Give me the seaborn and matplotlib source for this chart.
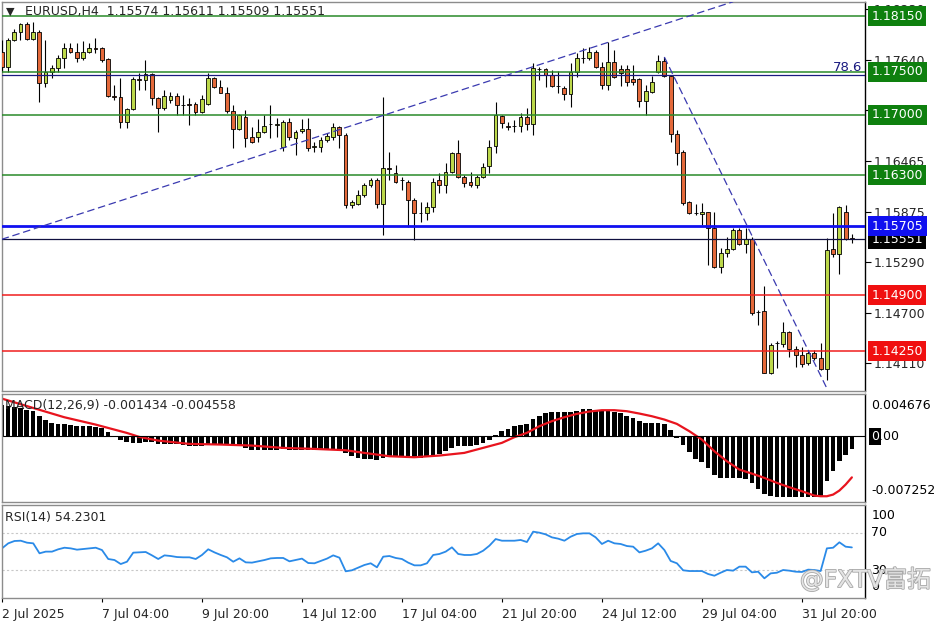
import matplotlib
matplotlib.use("Agg")
import matplotlib.pyplot as plt
import matplotlib.patheffects as pe
import numpy as np
import pandas as pd
import seaborn as sns

# EURUSD H4 bars, oldest first
opens = [
    1.17732, 1.17557, 1.17871, 1.17964, 1.18056, 1.17882, 1.17964, 1.17371, 1.17499, 1.17545,
    1.17662, 1.17778, 1.17732, 1.17662, 1.17732, 1.17778, 1.17778, 1.17650, 1.17219, 1.17208,
    1.16917, 1.17068, 1.17417, 1.17406, 1.17475, 1.17196, 1.17080, 1.17173, 1.17219, 1.17115,
    1.17126, 1.17126, 1.17033, 1.17126, 1.17429, 1.17325, 1.17254, 1.17045, 1.16835, 1.16975,
    1.16743, 1.16743, 1.16801, 1.16894, 1.16882, 1.16626, 1.16917, 1.16731, 1.16812, 1.16835,
    1.16626, 1.16626, 1.16708, 1.16743, 1.16859, 1.16766, 1.15952, 1.15963, 1.16068, 1.16185,
    1.16243, 1.15963, 1.16382, 1.16324, 1.16243, 1.16220, 1.16010, 1.15859, 1.15859, 1.15929,
    1.16243, 1.16185, 1.16336, 1.16556, 1.16278, 1.16220, 1.16185, 1.16278, 1.16405, 1.16638,
    1.16987, 1.16870, 1.16870, 1.16870, 1.16975, 1.16894, 1.17534, 1.17534, 1.17464, 1.17336,
    1.17313, 1.17243, 1.17499, 1.17662, 1.17662, 1.17732, 1.17557, 1.17348, 1.17615, 1.17534,
    1.17534, 1.17417, 1.17417, 1.17161, 1.17266, 1.17499, 1.17627, 1.17452, 1.16778, 1.16568,
    1.15987, 1.15859, 1.15847, 1.15870, 1.15684, 1.15231, 1.15394, 1.15440, 1.15661, 1.15498,
    1.15557, 1.14707, 1.14719, 1.13998, 1.14347, 1.14336, 1.14475, 1.14277, 1.14207, 1.14114,
    1.14231, 1.14172, 1.14045, 1.15440, 1.15382, 1.15870, 1.15574,
]
highs = [
    1.17871, 1.17894, 1.17998, 1.18068, 1.18080, 1.18080, 1.17987, 1.17871, 1.17580, 1.17697,
    1.17836, 1.17836, 1.17836, 1.17859, 1.17836, 1.17894, 1.17790, 1.17662, 1.17348, 1.17429,
    1.17080, 1.17441, 1.17487, 1.17638, 1.17487, 1.17208, 1.17289, 1.17266, 1.17254, 1.17231,
    1.17196, 1.17150, 1.17231, 1.17487, 1.17435, 1.17406, 1.17325, 1.17115, 1.17005, 1.17057,
    1.16859, 1.16952, 1.16998, 1.17115, 1.16963, 1.16940, 1.16963, 1.16824, 1.16952, 1.16963,
    1.16684, 1.16743, 1.16789, 1.16905, 1.16870, 1.16789, 1.16010, 1.16126, 1.16208, 1.16266,
    1.16266, 1.17208, 1.16568, 1.16417, 1.16278, 1.16243, 1.16033, 1.15987, 1.15987, 1.16266,
    1.16324, 1.16440, 1.16568, 1.16708, 1.16301, 1.16336, 1.16301, 1.16440, 1.16708, 1.17150,
    1.16998, 1.16917, 1.16940, 1.17022, 1.17080, 1.17603, 1.17557, 1.17545, 1.17522, 1.17510,
    1.17336, 1.17603, 1.17720, 1.17778, 1.17790, 1.17755, 1.17615, 1.17848, 1.17755, 1.17580,
    1.17580, 1.17580, 1.17429, 1.17348, 1.17452, 1.17697, 1.17673, 1.17464, 1.16824, 1.16591,
    1.15998, 1.15963, 1.15975, 1.15875, 1.15870, 1.15452, 1.15580, 1.15684, 1.15684, 1.15684,
    1.15580, 1.14731, 1.15010, 1.14347, 1.14370, 1.14591, 1.14487, 1.14312, 1.14301, 1.14266,
    1.14266, 1.14347, 1.15568, 1.15859, 1.15940, 1.15952, 1.15611,
]
lows = [
    1.17499, 1.17499, 1.17859, 1.17871, 1.17871, 1.17871, 1.17150, 1.17325, 1.17429, 1.17499,
    1.17545, 1.17720, 1.17615, 1.17638, 1.17720, 1.17720, 1.17615, 1.17208, 1.17173, 1.16847,
    1.16847, 1.17057, 1.17289, 1.17289, 1.17115, 1.16801, 1.17057, 1.17138, 1.16998, 1.16998,
    1.16882, 1.16998, 1.17022, 1.17115, 1.17313, 1.17250, 1.17022, 1.16615, 1.16824, 1.16626,
    1.16673, 1.16684, 1.16789, 1.16731, 1.16743, 1.16580, 1.16708, 1.16533, 1.16789, 1.16580,
    1.16568, 1.16568, 1.16684, 1.16708, 1.16615, 1.15917, 1.15917, 1.15952, 1.16045, 1.16161,
    1.15917, 1.15603, 1.16243, 1.16208, 1.16126, 1.15696, 1.15545, 1.15754, 1.15777, 1.15870,
    1.16091, 1.16091, 1.16324, 1.16266, 1.16161, 1.16161, 1.16150, 1.16266, 1.16324, 1.16556,
    1.16847, 1.16824, 1.16801, 1.16801, 1.16824, 1.16766, 1.17406, 1.17325, 1.17325, 1.17254,
    1.17173, 1.17092, 1.17441, 1.17603, 1.17638, 1.17545, 1.17301, 1.17289, 1.17429, 1.17336,
    1.17336, 1.17348, 1.17092, 1.16998, 1.17254, 1.17487, 1.17441, 1.16684, 1.16417, 1.15952,
    1.15847, 1.15836, 1.15719, 1.15254, 1.15219, 1.15161, 1.15347, 1.15429, 1.15487, 1.15394,
    1.14673, 1.14556, 1.13995, 1.13986, 1.14056, 1.14301, 1.14184, 1.14068, 1.14068, 1.14091,
    1.14149, 1.14033, 1.13917, 1.15347, 1.15150, 1.15545, 1.15509,
]
closes = [
    1.17557, 1.17871, 1.17964, 1.18056, 1.17882, 1.17964, 1.17371, 1.17499, 1.17545, 1.17662,
    1.17778, 1.17732, 1.17662, 1.17732, 1.17778, 1.17772, 1.17638, 1.17219, 1.17208, 1.16917,
    1.17068, 1.17417, 1.17406, 1.17475, 1.17196, 1.17080, 1.17219, 1.17219, 1.17115, 1.17110,
    1.17115, 1.17033, 1.17185, 1.17429, 1.17325, 1.17254, 1.17045, 1.16835, 1.16998, 1.16731,
    1.16684, 1.16801, 1.16870, 1.16890, 1.16894, 1.16917, 1.16743, 1.16801, 1.16835, 1.16615,
    1.16638, 1.16708, 1.16754, 1.16859, 1.16766, 1.15952, 1.15987, 1.16068, 1.16185, 1.16243,
    1.15963, 1.16382, 1.16370, 1.16220, 1.16238, 1.16010, 1.15859, 1.15855, 1.15929, 1.16220,
    1.16185, 1.16336, 1.16556, 1.16278, 1.16208, 1.16185, 1.16278, 1.16394, 1.16626, 1.16998,
    1.16905, 1.16865, 1.16875, 1.16975, 1.16894, 1.17545, 1.17530, 1.17464, 1.17336, 1.17332,
    1.17243, 1.17499, 1.17662, 1.17657, 1.17732, 1.17557, 1.17348, 1.17615, 1.17441, 1.17487,
    1.17383, 1.17383, 1.17161, 1.17278, 1.17383, 1.17627, 1.17452, 1.16778, 1.16556, 1.15975,
    1.15859, 1.15855, 1.15870, 1.15684, 1.15231, 1.15394, 1.15440, 1.15661, 1.15498, 1.15557,
    1.14696, 1.14703, 1.13998, 1.14324, 1.14343, 1.14475, 1.14277, 1.14207, 1.14103, 1.14231,
    1.14172, 1.14045, 1.15429, 1.15382, 1.15929, 1.15557, 1.15551,
]

# MACD(12,26,9): main values drawn as histogram, signal as red line
macd_hist = [
    0.003434, 0.003398, 0.003250, 0.003139, 0.002954, 0.002770, 0.002216, 0.001773, 0.001477, 0.001366,
    0.001329, 0.001256, 0.001108, 0.001108, 0.001108, 0.001034, 0.000923, 0.000480, 0.000074, -0.000369,
    -0.000665, -0.000739, -0.000739, -0.000591, -0.000665, -0.000812, -0.000849, -0.000849, -0.000886, -0.000960,
    -0.001034, -0.001108, -0.001034, -0.000923, -0.000849, -0.000849, -0.000849, -0.000923, -0.001034, -0.001293,
    -0.001477, -0.001477, -0.001551, -0.001551, -0.001477, -0.001403, -0.001477, -0.001477, -0.001477, -0.001477,
    -0.001477, -0.001477, -0.001477, -0.001477, -0.001588, -0.001847, -0.002216, -0.002400, -0.002474, -0.002511,
    -0.002659, -0.002400, -0.002216, -0.002216, -0.002216, -0.002290, -0.002400, -0.002400, -0.002327, -0.002142,
    -0.001920, -0.001662, -0.001293, -0.001108, -0.001108, -0.001034, -0.000923, -0.000739, -0.000369, 0.000185,
    0.000554, 0.000812, 0.001108, 0.001293, 0.001403, 0.001920, 0.002290, 0.002585, 0.002659, 0.002659,
    0.002659, 0.002659, 0.002844, 0.003028, 0.003065, 0.002954, 0.002844, 0.002844, 0.002696, 0.002585,
    0.002290, 0.002031, 0.001662, 0.001477, 0.001477, 0.001477, 0.001403, 0.000739, -0.000185, -0.000923,
    -0.001773, -0.002511, -0.002881, -0.003508, -0.004247, -0.004616, -0.004616, -0.004616, -0.004616, -0.004727,
    -0.005170, -0.005835, -0.006352, -0.006647, -0.006721, -0.006721, -0.006721, -0.006721, -0.006721, -0.006721,
    -0.006721, -0.006647, -0.004986, -0.003878, -0.002770, -0.002031, -0.001434,
]
signal_bar = [0, 5, 10, 15, 20, 22, 25, 30, 35, 40, 45, 50, 55, 58, 62, 66, 70, 74, 78, 80,
              82, 84, 86, 88, 90, 92, 94, 96, 98, 100, 102, 104, 106, 108, 110, 112, 114, 116, 118, 120,
              122, 124, 126, 128, 130, 131, 132, 133, 134, 135, 136]
signal_val = [0.004173, 0.003139, 0.002105, 0.001293, 0.000369, -0.000074, -0.000480, -0.000849, -0.000923, -0.001034,
              -0.001293, -0.001403, -0.001551, -0.001847, -0.002216, -0.002327, -0.002142, -0.001847, -0.001108, -0.000739,
              -0.000111, 0.000369, 0.001108, 0.001662, 0.002105, 0.002474, 0.002733, 0.002881, 0.002881, 0.002770,
              0.002511, 0.002216, 0.001847, 0.001366, 0.000554, -0.000369, -0.001662, -0.002770, -0.003693, -0.004136,
              -0.004616, -0.005170, -0.005650, -0.006093, -0.006574, -0.006647, -0.006647, -0.006463, -0.006020, -0.005355,
              -0.004558]

rsi = [
    53.2, 58.6, 61.1, 61.4, 59.3, 58.6, 47.9, 49.7, 49.7, 52.2,
    53.9, 53.2, 51.8, 52.5, 53.2, 53.9, 51.4, 41.8, 40.7, 36.4,
    38.9, 48.6, 48.9, 49.3, 45.7, 41.8, 45.7, 45.0, 43.9, 43.6,
    43.6, 41.8, 46.1, 52.2, 48.9, 46.1, 43.6, 38.9, 42.5, 38.2,
    37.9, 39.3, 40.7, 42.5, 42.9, 42.9, 39.3, 40.7, 42.2, 37.5,
    37.2, 39.7, 42.2, 45.7, 43.2, 28.6, 29.7, 32.5, 35.4, 37.2,
    32.9, 44.3, 45.0, 42.9, 41.8, 37.9, 35.0, 35.0, 37.2, 46.1,
    47.2, 49.7, 54.3, 47.2, 46.1, 46.1, 47.2, 50.7, 56.1, 63.2,
    61.4, 61.4, 61.4, 62.2, 60.0, 71.1, 70.0, 68.2, 65.0, 63.6,
    61.4, 65.7, 68.6, 69.3, 69.3, 65.0, 57.9, 61.4, 58.6, 57.9,
    55.7, 55.0, 48.9, 50.7, 53.2, 58.6, 51.4, 39.7, 37.2, 29.7,
    28.9, 28.9, 28.9, 25.7, 23.9, 27.1, 30.0, 29.3, 33.6, 33.6,
    27.5, 28.2, 21.1, 26.4, 27.1, 30.0, 29.3, 28.2, 27.9, 30.4,
    30.0, 28.9, 53.2, 53.9, 59.7, 55.0, 54.23,
]

# chart objects
green_levels = [1.18150, 1.17500, 1.17000, 1.16300]
blue_level = 1.15705
red_levels = [1.14900, 1.14250]
fib_level = 1.17464
last_price = 1.15551
price_ticks = [1.18230, 1.17640, 1.17055, 1.16465, 1.15875, 1.15290, 1.14700, 1.14110]
trend_up_bar = [0, 117]
trend_up_price = [1.15553, 1.18316]
trend_down_bar = [106, 132]
trend_down_price = [1.17673, 1.13820]
date_bar = [0, 16, 32, 48, 64, 80, 96, 112, 128]
date_labels = ["2 Jul 2025", "7 Jul 04:00", "9 Jul 20:00", "14 Jul 12:00", "17 Jul 04:00",
               "21 Jul 20:00", "24 Jul 12:00", "29 Jul 04:00", "31 Jul 20:00"]
macd_min, macd_max = -0.007252, 0.004676

df = pd.DataFrame({"open": opens, "high": highs, "low": lows, "close": closes})
df["bar"] = np.arange(len(df))
df["bull"] = df["close"] >= df["open"]

sns.set_theme(style="white")
plt.rcParams["font.family"] = ["DejaVu Sans", "Noto Sans CJK SC"]

W, H = 936, 624
fig = plt.figure(figsize=(W / 100, H / 100), dpi=100)


def px_axes(x0, y0, x1, y1):
    return fig.add_axes([x0 / W, 1 - y1 / H, (x1 - x0) / W, (y1 - y0) / H])


ax = px_axes(2, 2, 865, 391)
ax_macd = px_axes(2, 394, 865, 501.7)
ax_rsi = px_axes(2, 504.7, 865, 598)

FS = 9
BULL, BEAR = "#bcd84a", "#e4693a"


def tag(a, y, text, fc, z=10):
    a.annotate(text, xy=(1, y), xycoords=("axes fraction", "data"), xytext=(4.5, 0),
               textcoords="offset points", ha="left", va="center", fontsize=FS, color="white",
               bbox=dict(boxstyle="square,pad=0.28", fc=fc, ec="none"),
               annotation_clip=False, zorder=z)


def side_text(a, y, text, dy=0, va="center"):
    a.annotate(text, xy=(1, y), xycoords=("axes fraction", "data"), xytext=(4.5, dy),
               textcoords="offset points", ha="left", va=va, fontsize=FS, color="black",
               annotation_clip=False)


# --- price panel ---
ax.vlines(df["bar"], df["low"], df["high"], color="black", lw=0.8, zorder=3)
body_bottom = df[["open", "close"]].min(axis=1)
body_height = (df["close"] - df["open"]).abs().clip(lower=0.00002)
ax.bar(df["bar"], body_height, bottom=body_bottom, width=0.62,
       color=np.where(df["bull"], BULL, BEAR), edgecolor="black", linewidth=0.6, zorder=4)

# objects drawn over the candles, as in the terminal
for lv in green_levels:
    ax.axhline(lv, color="#2a8a2a", lw=1.1, zorder=5)
for lv in red_levels:
    ax.axhline(lv, color="#f01e1e", lw=1.1, zorder=5)
ax.axhline(blue_level, color="#1010f0", lw=2, zorder=5)
ax.axhline(fib_level, color="#1a1a80", lw=0.9, zorder=5)
ax.axhline(last_price, color="#101040", lw=0.9, zorder=5)
ax.plot(trend_up_bar, trend_up_price, color="#3a3ab0", lw=0.9, dashes=(6, 3), zorder=5)
ax.plot(trend_down_bar, trend_down_price, color="#3a3ab0", lw=0.9, dashes=(6, 3), zorder=5)

ax.set_xlim(0.05, 138.1)
ax.set_ylim(1.13789, 1.18313)
ax.set_yticks(price_ticks)
ax.set_yticklabels([f"{t:.5f}" for t in price_ticks])
ax.yaxis.tick_right()
ax.tick_params(axis="y", direction="out", length=4, width=0.8, color="black",
               labelsize=FS, pad=2, right=True, left=False)
ax.set_xticks([])

for lv in green_levels:
    tag(ax, lv, f"{lv:.5f}", "#0e800e")
tag(ax, last_price, f"{last_price:.5f}", "black", z=10)
tag(ax, blue_level, f"{blue_level:.5f}", "#1010f0", z=11)
for lv in red_levels:
    tag(ax, lv, f"{lv:.5f}", "#f01010")
ax.annotate("78.6", xy=(1, fib_level), xycoords=("axes fraction", "data"), xytext=(-2, 1),
            textcoords="offset points", ha="right", va="bottom", fontsize=9.5, color="#1a1a80")

# --- MACD panel ---
sns.barplot(x=df["bar"], y=macd_hist, native_scale=True, color="black", saturation=1,
            width=0.75, linewidth=0, errorbar=None, ax=ax_macd)
sns.lineplot(x=signal_bar, y=signal_val, color="#e8141e", lw=1.6, estimator=None, ax=ax_macd)
ax_macd.axhline(0, color="black", lw=0.8)
ax_macd.set_xlim(0.05, 138.1)
ax_macd.set_ylim(macd_min, macd_max)
ax_macd.set_xticks([])
ax_macd.set_yticks([])
ax_macd.set_xlabel("")
ax_macd.set_ylabel("")
side_text(ax_macd, macd_max, f"{macd_max:.6f}", dy=-3.5, va="top")
side_text(ax_macd, 0, "0.00")
ax_macd.annotate("0", xy=(1, 0), xycoords=("axes fraction", "data"), xytext=(4.5, 0),
                 textcoords="offset points", ha="left", va="center", fontsize=FS, color="white",
                 bbox=dict(boxstyle="square,pad=0.15", fc="black", ec="none"), annotation_clip=False)
side_text(ax_macd, macd_min, f"{macd_min:.6f}", dy=3.5, va="bottom")

# --- RSI panel ---
ax_rsi.axhline(70, color="#c8c8c8", lw=0.8, ls=(0, (2, 2)))
ax_rsi.axhline(30, color="#c8c8c8", lw=0.8, ls=(0, (2, 2)))
sns.lineplot(x=df["bar"], y=rsi, color="#2a8ae8", lw=1.3, estimator=None, ax=ax_rsi)
ax_rsi.set_xlim(0.05, 138.1)
ax_rsi.set_ylim(0, 100)
ax_rsi.set_yticks([])
ax_rsi.set_xlabel("")
ax_rsi.set_ylabel("")
ax_rsi.set_xticks(date_bar)
ax_rsi.set_xticklabels(date_labels, ha="left", fontsize=FS)
ax_rsi.tick_params(axis="x", direction="out", length=3, width=0.8, color="black", pad=4, bottom=True)
side_text(ax_rsi, 100, "100", dy=-3.3, va="top")
side_text(ax_rsi, 70, "70")
side_text(ax_rsi, 30, "30")
side_text(ax_rsi, 0, "0", dy=3.8, va="bottom")

for a in (ax, ax_macd, ax_rsi):
    for s in a.spines.values():
        s.set_color("#8c8c8c")
        s.set_linewidth(1)
    a.spines["right"].set_color("black")
    a.grid(False)

# header texts
fig.text(6 / W, 1 - 12 / H, "\u25bc", fontsize=8, va="center", ha="left")
fig.text(25 / W, 1 - 12 / H, "EURUSD,H4  1.15574 1.15611 1.15509 1.15551", fontsize=FS, va="center")
fig.text(5 / W, 1 - 406 / H, "MACD(12,26,9) -0.001434 -0.004558", fontsize=FS, va="center")
fig.text(5 / W, 1 - 517 / H, "RSI(14) 54.2301", fontsize=FS, va="center")
fig.text(800 / W, 1 - 580 / H, "@FXTV富拓", fontsize=17, color="#e4e4e4", va="center",
         path_effects=[pe.withStroke(linewidth=1.2, foreground="#a8a8a8")])

fig.savefig("out.png", dpi=100, facecolor="white")
